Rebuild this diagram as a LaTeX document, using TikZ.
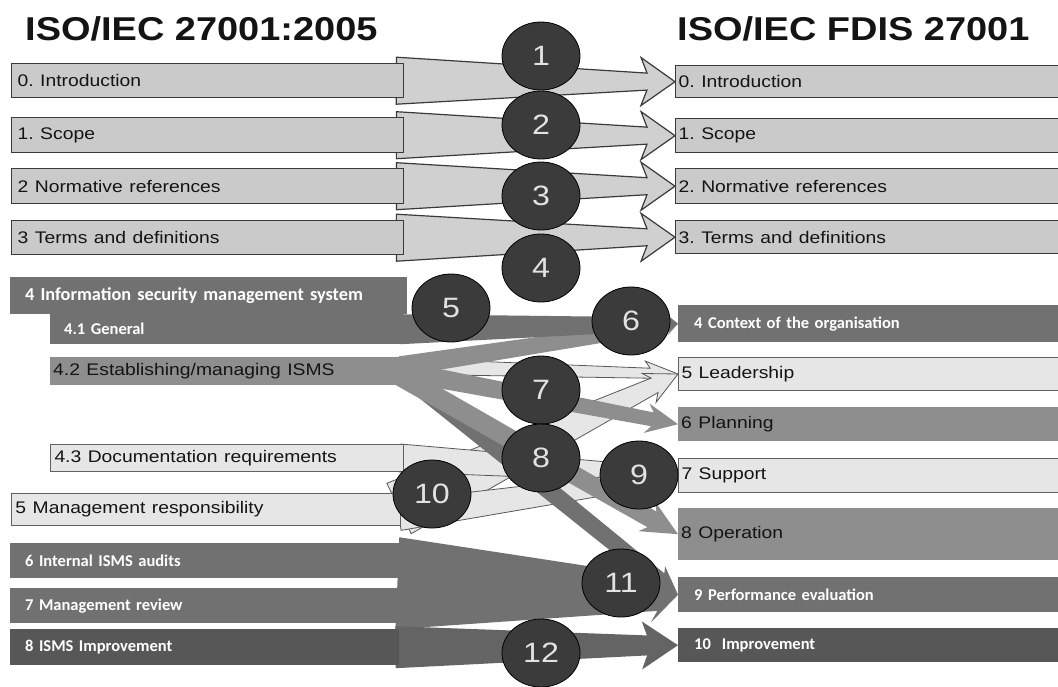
\documentclass[tikz,border=0pt]{standalone}
\usepackage{fontspec}
\setmainfont{Liberation Sans}
\newfontfamily\calfont{Carlito}
\usepackage{graphicx}
\usetikzlibrary{calc,shapes.geometric}
\frenchspacing
\pgfdeclarelayer{bgl}
\pgfdeclarelayer{arrl}
\pgfsetlayers{bgl,arrl,main}
\definecolor{topfill}{HTML}{CACACA}
\definecolor{toparr}{HTML}{D0D0D0}
\definecolor{edge}{HTML}{3A3A3A}
\definecolor{lightf}{HTML}{E6E6E6}
\definecolor{midf}{HTML}{8E8E8E}
\definecolor{darkf}{HTML}{717171}
\definecolor{darkerf}{HTML}{575757}
\definecolor{arrtw}{HTML}{646464}
\definecolor{circf}{HTML}{3B3B3B}
\definecolor{circt}{HTML}{E2E2E2}
\newcommand\sx[1]{\scalebox{1.15}[1]{#1}}
\newcommand\bx[8]{%
  \pgfmathsetmacro\bxw{#6-#4-2*#2}%
  \pgfmathsetmacro\bxh{#7-#5}%
  \node[#1, inner xsep=#2pt, inner ysep=0pt, text width=\bxw pt, minimum height=\bxh pt, anchor=north west, align=left] (#3) at (#4,#5) {#8};%
}
\newcommand\blockarrow[8]{%
  \coordinate (bah) at ($(#3)!#7!(#2)$);%
  \coordinate (baw) at ($(#3)!#8!(#2)$);%
  \path[#1] ($(#2)!#4!90:(#3)$) -- ($(bah)!#5!90:(#3)$) -- ($(baw)!#6!90:(#3)$) -- (#3) -- ($(baw)!#6!-90:(#3)$) -- ($(bah)!#5!-90:(#3)$) -- ($(#2)!#4!-90:(#3)$) -- cycle;%
}
\tikzset{
 arialtxt/.style={font=\fontsize{16.8}{20}\selectfont, text=black!92},
 caltxt/.style={font=\fontsize{16.5}{20}\selectfont\calfont\bfseries, text=white},
 bigcal/.style={font=\fontsize{18.3}{22}\selectfont\calfont\bfseries},
 topbox/.style={arialtxt, fill=topfill, draw=edge, line width=1.4pt},
 lightbox/.style={arialtxt, fill=lightf, draw=edge!80, line width=1pt},
 midbox/.style={arialtxt, fill=midf},
 darkbox/.style={caltxt, fill=darkf},
 darkerbox/.style={caltxt, fill=darkerf},
 num/.style={ellipse, draw=black, line width=0.8pt, fill=circf, minimum width=78pt, minimum height=68pt, inner sep=0pt, text=circt, font=\fontsize{28}{30}\selectfont},
 toparrow/.style={fill=toparr, draw=edge, line width=1.2pt},
 lightarrow/.style={fill=lightf, draw=edge!85, line width=0.8pt},
 midarrow/.style={fill=midf},
 darkarrow/.style={fill=darkf},
 darkerarrow/.style={fill=arrtw},
 title/.style={font=\fontsize{33}{36}\selectfont\bfseries, text=black!92, inner sep=0pt, anchor=base west},
}
\begin{document}
\begin{tikzpicture}[x=1pt,y=-1pt]
\useasboundingbox (0,0) rectangle (1058,686);
\begin{pgfonlayer}{bgl}
\fill[white] (0,0) rectangle (1058,686);
\end{pgfonlayer}
% titles
\node[title] (tl) at (25,40.5) {\sx{ISO/IEC 27001:2005}};
\node[title] (tr) at (677,40.5) {\sx{ISO/IEC FDIS 27001}};
% left boxes
\bx{topbox}{6}{l0}{11}{63}{403}{97}{\sx{0. Introduction}}
\bx{topbox}{6}{l1}{11}{117}{403}{152}{\sx{1. Scope}}
\bx{topbox}{6}{l2}{11}{168}{403}{203}{\sx{2 Normative references}}
\bx{topbox}{6}{l3}{11}{220}{403}{254}{\sx{3 Terms and definitions}}
\bx{darkbox,bigcal}{15}{l4}{10}{277}{407}{314}{4 Information security management system}
\bx{darkbox}{14}{l41}{50}{314}{403}{344}{4.1 General}
\bx{midbox}{3}{l42}{50}{357}{404}{385}{\sx{4.2 Establishing/managing ISMS}}
\bx{lightbox}{4}{l43}{50}{444}{403}{471}{\sx{4.3 Documentation requirements}}
\bx{lightbox}{4}{l5}{11}{493}{400}{525}{\sx{5 Management responsibility}}
\bx{darkbox}{15}{l6}{10}{543}{399}{578}{6 Internal ISMS audits}
\bx{darkbox}{15}{l7}{10}{588}{399}{623}{7 Management review}
\bx{darkerbox}{15}{l8}{10}{629}{399}{665}{8 ISMS Improvement}
% right boxes
\bx{topbox}{3}{r0}{675}{65}{1062}{97}{\sx{0. Introduction}}
\bx{topbox}{3}{r1}{675}{118}{1062}{152}{\sx{1. Scope}}
\bx{topbox}{3}{r2}{675}{168}{1062}{203}{\sx{2. Normative references}}
\bx{topbox}{3}{r3}{675}{220}{1062}{253}{\sx{3. Terms and definitions}}
\bx{darkbox}{16}{r4}{678}{305}{1062}{342}{4 Context of the organisation}
\bx{lightbox}{3}{r5}{678}{357}{1062}{390}{\sx{5 Leadership}}
\bx{midbox}{3}{r6}{678}{407}{1062}{441}{\sx{6 Planning}}
\bx{lightbox}{3}{r7}{678}{458}{1062}{492}{\sx{7 Support}}
\bx{midbox}{3}{r8}{678}{508}{1062}{560}{\sx{8 Operation}}
\bx{darkbox}{16}{r9}{678}{577}{1062}{612}{9 Performance evaluation}
\bx{darkerbox}{16}{r10}{678}{628}{1062}{662}{10~ Improvement}
% arrows
\begin{pgfonlayer}{arrl}
\coordinate (t0) at ($(l0.east)+(-8,0)$);
\coordinate (t1) at ($(l1.east)+(-8,0)$);
\coordinate (t2) at ($(l2.east)+(-8,0)$);
\coordinate (t3) at ($(l3.east)+(-8,0)$);
\blockarrow{toparrow}{t0}{r0.west}{23.5pt}{8.5pt}{24pt}{28pt}{34pt}
\blockarrow{toparrow}{t1}{r1.west}{23.5pt}{8.5pt}{24pt}{28pt}{34pt}
\blockarrow{toparrow}{t2}{r2.west}{23.5pt}{8.5pt}{24pt}{28pt}{34pt}
\blockarrow{toparrow}{t3}{r3.west}{23.5pt}{8.5pt}{24pt}{28pt}{34pt}
% light arrows
\coordinate (s1) at ($(l42.east)+(-4,-5)$);
\coordinate (s2) at ($(l5.east)+(-2,-1)$);
\coordinate (s3) at ($(l43.east)+(-4,0)$);
\coordinate (s4) at ($(l5.east)+(-2,6)$);
\blockarrow{lightarrow}{s1}{r5.west}{8pt}{5pt}{12pt}{28pt}{33pt}
\blockarrow{lightarrow}{s2}{r5.west}{28pt}{8pt}{16pt}{26pt}{32pt}
\blockarrow{lightarrow}{s3}{r7.west}{14pt}{8pt}{16pt}{26pt}{32pt}
\blockarrow{lightarrow}{s4}{r7.west}{15pt}{8pt}{16pt}{26pt}{32pt}
% dark and mid arrows
\coordinate (s11) at ($(l6.east)!.5!(l7.east)+(-2,0)$);
\coordinate (s12) at ($(l8.east)+(-4,0)$);
\coordinate (sp) at ($(l42.east)+(-4,-1)$);
\coordinate (s8) at ($(l42.east)+(-4,5)$);
\coordinate (s7) at ($(l42.east)+(-4,0)$);
\coordinate (s5) at ($(l41.east)+(-3,0)$);
\blockarrow{darkarrow}{s11}{r9.west}{46pt}{17pt}{29pt}{20pt}{26pt}
\blockarrow{darkerarrow}{s12}{r10.west}{21pt}{10pt}{24pt}{31pt}{36pt}
\blockarrow{darkarrow}{sp}{r9.west}{10pt}{8pt}{14pt}{24pt}{28pt}
\blockarrow{midarrow}{s8}{r8.west}{10pt}{9pt}{17pt}{30pt}{36pt}
\blockarrow{midarrow}{s7}{r6.west}{10pt}{7pt}{15pt}{26pt}{32pt}
\blockarrow{midarrow}{s1}{r4.west}{10pt}{6.5pt}{10pt}{10pt}{12pt}
\blockarrow{darkarrow}{s5}{r4.west}{15pt}{6.5pt}{10pt}{10pt}{12pt}
\end{pgfonlayer}
% numbered circles
\node[num] (c1) at (541,56) {\sx{1}};
\node[num] (c2) at (541,125) {\sx{2}};
\node[num] (c3) at (541,196) {\sx{3}};
\node[num] (c4) at (541,268) {\sx{4}};
\node[num] (c5) at (451,308) {\sx{5}};
\node[num] (c6) at (631,321) {\sx{6}};
\node[num] (c7) at (541,390) {\sx{7}};
\node[num] (c8) at (541,458) {\sx{8}};
\node[num] (c9) at (639,475) {\sx{9}};
\node[num] (c10) at (432,494) {\sx{10}};
\node[num] (c11) at (621,583) {\sx{11}};
\node[num] (c12) at (541,653) {\sx{12}};
\end{tikzpicture}
\end{document}
